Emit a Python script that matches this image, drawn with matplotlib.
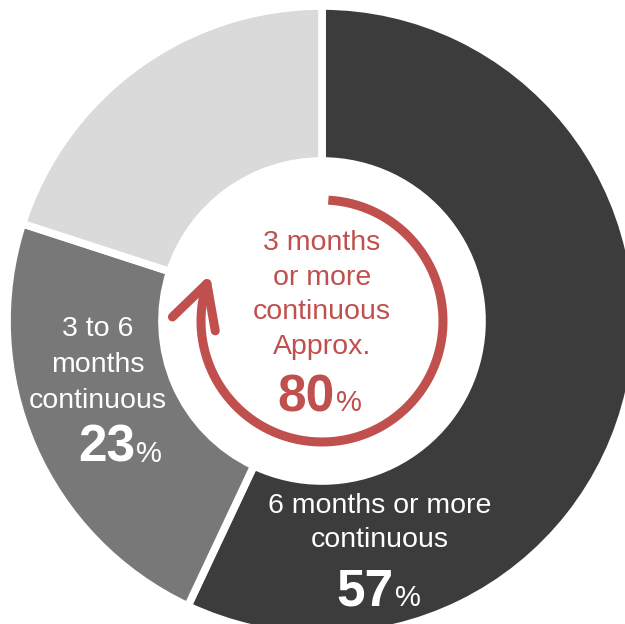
import numpy as np
import matplotlib
matplotlib.use('Agg')
import matplotlib.pyplot as plt

plt.rcParams['font.family'] = ['Liberation Sans', 'DejaVu Sans']

# Share of respondents by length of continuous period
labels = ["6 months or more\ncontinuous", "3 to 6\nmonths\ncontinuous", "Less than 3 months"]
shares = [57, 23, 20]
colors = ['#3c3c3c', '#787878', '#dadada']
combined_label = "3 months\nor more\ncontinuous\nApprox."
combined_share = 80

RED = '#c0504d'
W, H = 625, 624

fig = plt.figure(figsize=(W / 100, H / 100), dpi=100)
ax = fig.add_axes([0, 0, 1, 1])

cx, cy = 322, H - 321
R = 315
ax.pie(shares, colors=colors, startangle=90, counterclock=False,
       center=(cx, cy), radius=R, frame=True,
       wedgeprops=dict(width=155, edgecolor='white', linewidth=5.5))
ax.set_xlim(0, W)
ax.set_ylim(0, H)
ax.set_aspect('equal')
ax.axis('off')

# red arc covering the 3+ months share, ending in an arrowhead
r_arc = 121
start = 87
end = 90 - 360 * combined_share / 100
th = np.radians(np.linspace(start, end, 300))
ax.plot(cx + r_arc * np.cos(th), cy + r_arc * np.sin(th),
        color=RED, lw=6.5, solid_capstyle='butt')
tip_t = th[-1]
tip = np.array([cx + r_arc * np.cos(tip_t), cy + r_arc * np.sin(tip_t)])
back = -np.array([np.sin(tip_t), -np.cos(tip_t)])
for sgn in (1, -1):
    a = np.radians(28) * sgn
    rot = np.array([[np.cos(a), -np.sin(a)], [np.sin(a), np.cos(a)]])
    wing = tip + 48 * rot @ back
    ax.plot([tip[0], wing[0]], [tip[1], wing[1]], color=RED, lw=6.5,
            solid_capstyle='round')

# centre label
ax.text(cx, H - 295, combined_label, color=RED, fontsize=20.5,
        ha='center', va='center', linespacing=1.42)


def pct(x, y, value, color):
    ax.text(x, y, f"{value}", color=color, fontsize=37, fontweight='bold',
            ha='right', va='baseline')
    ax.text(x + 1, y, "%", color=color, fontsize=21, ha='left', va='baseline')


pct(335, H - 411, combined_share, RED)

# segment labels
ax.text(98, H - 365, labels[1], color='white', fontsize=20.5,
        ha='center', va='center', linespacing=1.48)
pct(135, H - 462, shares[1], 'white')

ax.text(380, H - 523, labels[0], color='white', fontsize=20.5,
        ha='center', va='center', linespacing=1.44)
pct(394, H - 606, shares[0], 'white')

fig.savefig('out.png', dpi=100)
